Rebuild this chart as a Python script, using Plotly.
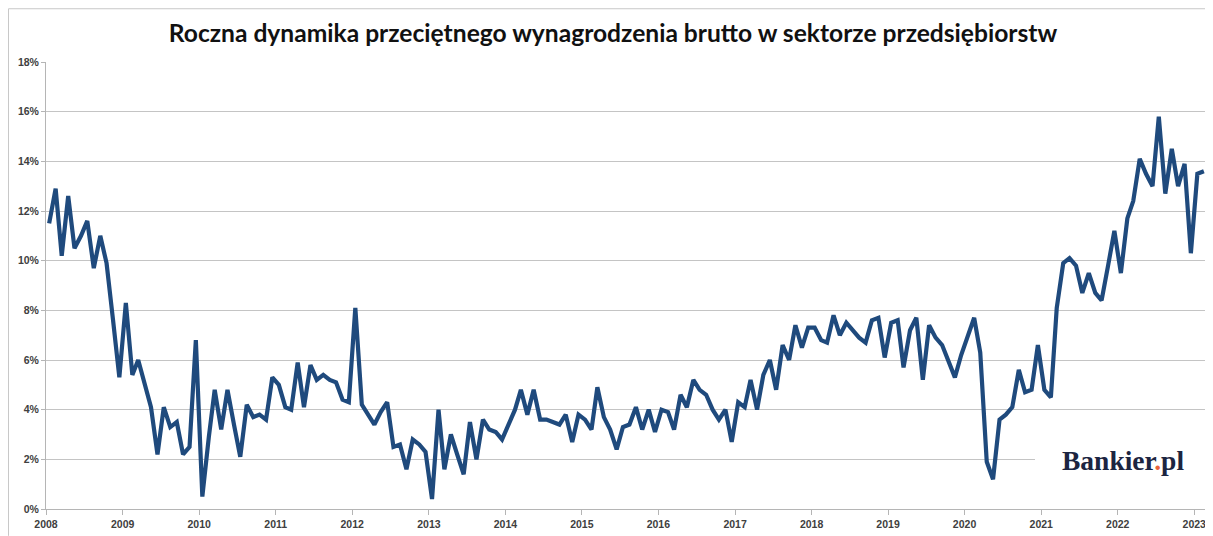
import pandas as pd
import plotly.graph_objects as go

# Year-on-year growth of average gross wage in enterprise sector (%), monthly Jan 2008 - Feb 2023
start_month = "2008-01"
values = [
    # 2008
    11.5, 12.9, 10.2, 12.6, 10.5, 11.0, 11.6, 9.7, 11.0, 9.9, 7.6, 5.3,
    # 2009
    8.3, 5.4, 6.0, 5.1, 4.1, 2.2, 4.1, 3.3, 3.5, 2.2, 2.5, 6.8,
    # 2010
    0.5, 2.9, 4.8, 3.2, 4.8, 3.4, 2.1, 4.2, 3.7, 3.8, 3.6, 5.3,
    # 2011
    5.0, 4.1, 4.0, 5.9, 4.1, 5.8, 5.2, 5.4, 5.2, 5.1, 4.4, 4.3,
    # 2012
    8.1, 4.2, 3.8, 3.4, 3.9, 4.3, 2.5, 2.6, 1.6, 2.8, 2.6, 2.3,
    # 2013
    0.4, 4.0, 1.6, 3.0, 2.2, 1.4, 3.5, 2.0, 3.6, 3.2, 3.1, 2.8,
    # 2014
    3.4, 4.0, 4.8, 3.8, 4.8, 3.6, 3.6, 3.5, 3.4, 3.8, 2.7, 3.8,
    # 2015
    3.6, 3.2, 4.9, 3.7, 3.2, 2.4, 3.3, 3.4, 4.1, 3.2, 4.0, 3.1,
    # 2016
    4.0, 3.9, 3.2, 4.6, 4.1, 5.2, 4.8, 4.6, 4.0, 3.6, 4.0, 2.7,
    # 2017
    4.3, 4.1, 5.2, 4.0, 5.4, 6.0, 4.8, 6.6, 6.0, 7.4, 6.5, 7.3,
    # 2018
    7.3, 6.8, 6.7, 7.8, 7.0, 7.5, 7.2, 6.9, 6.7, 7.6, 7.7, 6.1,
    # 2019
    7.5, 7.6, 5.7, 7.2, 7.7, 5.2, 7.4, 6.9, 6.6, 6.0, 5.3, 6.2,
    # 2020
    7.0, 7.7, 6.3, 1.9, 1.2, 3.6, 3.8, 4.1, 5.6, 4.7, 4.8, 6.6,
    # 2021
    4.8, 4.5, 8.1, 9.9, 10.1, 9.8, 8.7, 9.5, 8.7, 8.4, 9.8, 11.2,
    # 2022
    9.5, 11.7, 12.4, 14.1, 13.5, 13.0, 15.8, 12.7, 14.5, 13.0, 13.9, 10.3,
    # 2023
    13.5, 13.6,
]

y_tick_values = [0, 2, 4, 6, 8, 10, 12, 14, 16, 18]
y_tick_labels = [f"{v}%" for v in y_tick_values]
title_text = "Roczna dynamika przeciętnego wynagrodzenia brutto w sektorze przedsiębiorstw"

months = pd.date_range(start_month, periods=len(values), freq="MS") + pd.Timedelta(days=15)

W, H = 1205, 528
L, R, T, B = 38, 6, 54, 25
PW, PH = W - L - R, H - T - B

fig = go.Figure()
fig.add_trace(go.Scatter(
    x=months, y=values, mode="lines",
    line=dict(color="#1F4A7D", width=4.2, shape="linear"),
    hoverinfo="x+y",
))

tick_font = dict(family="Liberation Sans", size=10.5, color="#404040", weight="bold")

fig.update_layout(
    width=W, height=H,
    margin=dict(l=L, r=R, t=T, b=B, pad=0),
    paper_bgcolor="white", plot_bgcolor="white",
    showlegend=False,
    title=dict(
        text=title_text, x=605 / W, xanchor="center", y=1 - 25 / H, yanchor="middle",
        xref="container", yref="container",
        font=dict(family="Lato", size=24.6, color="#111111", weight="bold"),
    ),
    xaxis=dict(
        range=["2008-01-01", "2023-03-03"],
        tickmode="linear", tick0="2008-01-01", dtick="M12", tickformat="%Y",
        showgrid=False, showline=True, linecolor="#b5b5b5", linewidth=1,
        ticks="outside", ticklen=5, tickcolor="#b5b5b5",
        tickfont=tick_font, zeroline=False,
    ),
    yaxis=dict(
        range=[0, 18], tickvals=y_tick_values, ticktext=y_tick_labels,
        showgrid=True, gridcolor="#c4c4c4", gridwidth=1,
        showline=True, linecolor="#b5b5b5", linewidth=1,
        ticks="outside", ticklen=4, tickcolor="#b5b5b5",
        tickfont=tick_font, zeroline=False,
    ),
)

# white patch behind logo (gridline interrupted there)
fig.add_shape(type="rect", xref="paper", yref="y", x0=(1027 - L) / PW, x1=1.0, y0=1.0, y1=3.1,
              fillcolor="white", line=dict(width=0), layer="above")

fig.add_annotation(
    xref="paper", yref="paper", x=(1115 - L) / PW, y=(H - B - 454) / PH,
    text="Bankier<span style='color:#E8643C'>.</span>pl", showarrow=False,
    font=dict(family="Liberation Serif", size=27.5, color="#1C2541", weight="bold"),
    xanchor="center", yanchor="middle",
)

# outer chart border (top and left visible)
top_y = (H - B - 0.5) / PH
left_x = (0.5 - L) / PW
fig.add_shape(type="line", xref="paper", yref="paper", x0=left_x, x1=1.02,
              y0=top_y, y1=top_y, line=dict(color="#c8c8c8", width=1))
fig.add_shape(type="line", xref="paper", yref="paper", x0=left_x, x1=left_x,
              y0=top_y, y1=-0.06, line=dict(color="#c8c8c8", width=1))

fig.write_html("out.html")
